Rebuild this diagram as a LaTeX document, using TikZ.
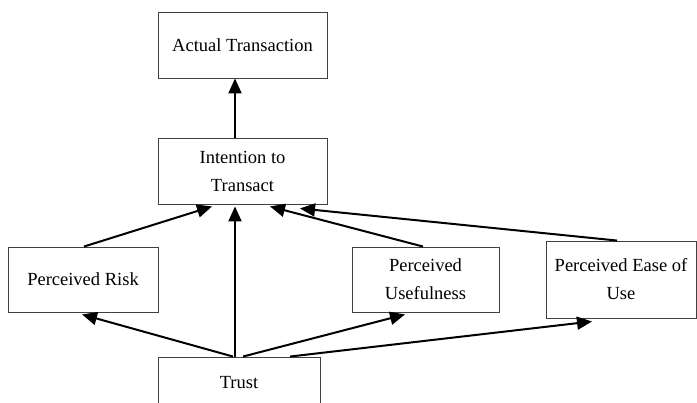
\documentclass[tikz,border=0pt]{standalone}
\usepackage{fontspec}
\setmainfont{Liberation Serif}
\usetikzlibrary{arrows.meta}
\begin{document}
\begin{tikzpicture}[x=1pt,y=-1pt,
  box/.style={draw=black!75,line width=0.9pt,rectangle,align=center,inner sep=0pt,
    font=\fontsize{18.5}{28}\selectfont},
  arr/.style={-{Triangle[length=15pt,width=13pt]},line width=2pt,black}]
\useasboundingbox (0,0) rectangle (697,403);
\node[box,minimum width=169pt,minimum height=66pt] (actual) at (242.5,45) {Actual Transaction};
\node[box,minimum width=169pt,minimum height=66pt] (intent) at (242.5,171) {Intention to\\Transact};
\node[box,minimum width=150pt,minimum height=65pt] (risk) at (83,279.5) {Perceived Risk};
\node[box,minimum width=147pt,minimum height=65pt] (useful) at (425.5,279.5) {Perceived\\Usefulness};
\node[box,minimum width=150pt,minimum height=77pt] (ease) at (621,279.5) {Perceived Ease of\\Use};
\node[box,minimum width=162pt,minimum height=52pt] (trust) at (239,383) {Trust};
\draw[arr] ([xshift=-7.5pt]intent.north) -- ([xshift=-7.5pt]actual.south);
\draw[arr] ([xshift=1pt]risk.north) -- ([xshift=-30.5pt,yshift=-2pt]intent.south);
\draw[arr] ([xshift=-4pt]trust.north) -- ([xshift=-7.5pt,yshift=-2pt]intent.south);
\draw[arr] ([xshift=-2.5pt]useful.north) -- ([xshift=27.5pt,yshift=-2pt]intent.south);
\draw[arr] ([xshift=-4pt]ease.north) -- ([xshift=57.5pt,yshift=-4pt]intent.south);
\draw[arr] ([xshift=-6pt]trust.north) -- ([xshift=-1pt,yshift=-2pt]risk.south);
\draw[arr] ([xshift=4pt]trust.north) -- ([xshift=-20.5pt,yshift=-2pt]useful.south);
\draw[arr] ([xshift=51pt]trust.north) -- ([xshift=-29pt,yshift=-3pt]ease.south);
\end{tikzpicture}
\end{document}
